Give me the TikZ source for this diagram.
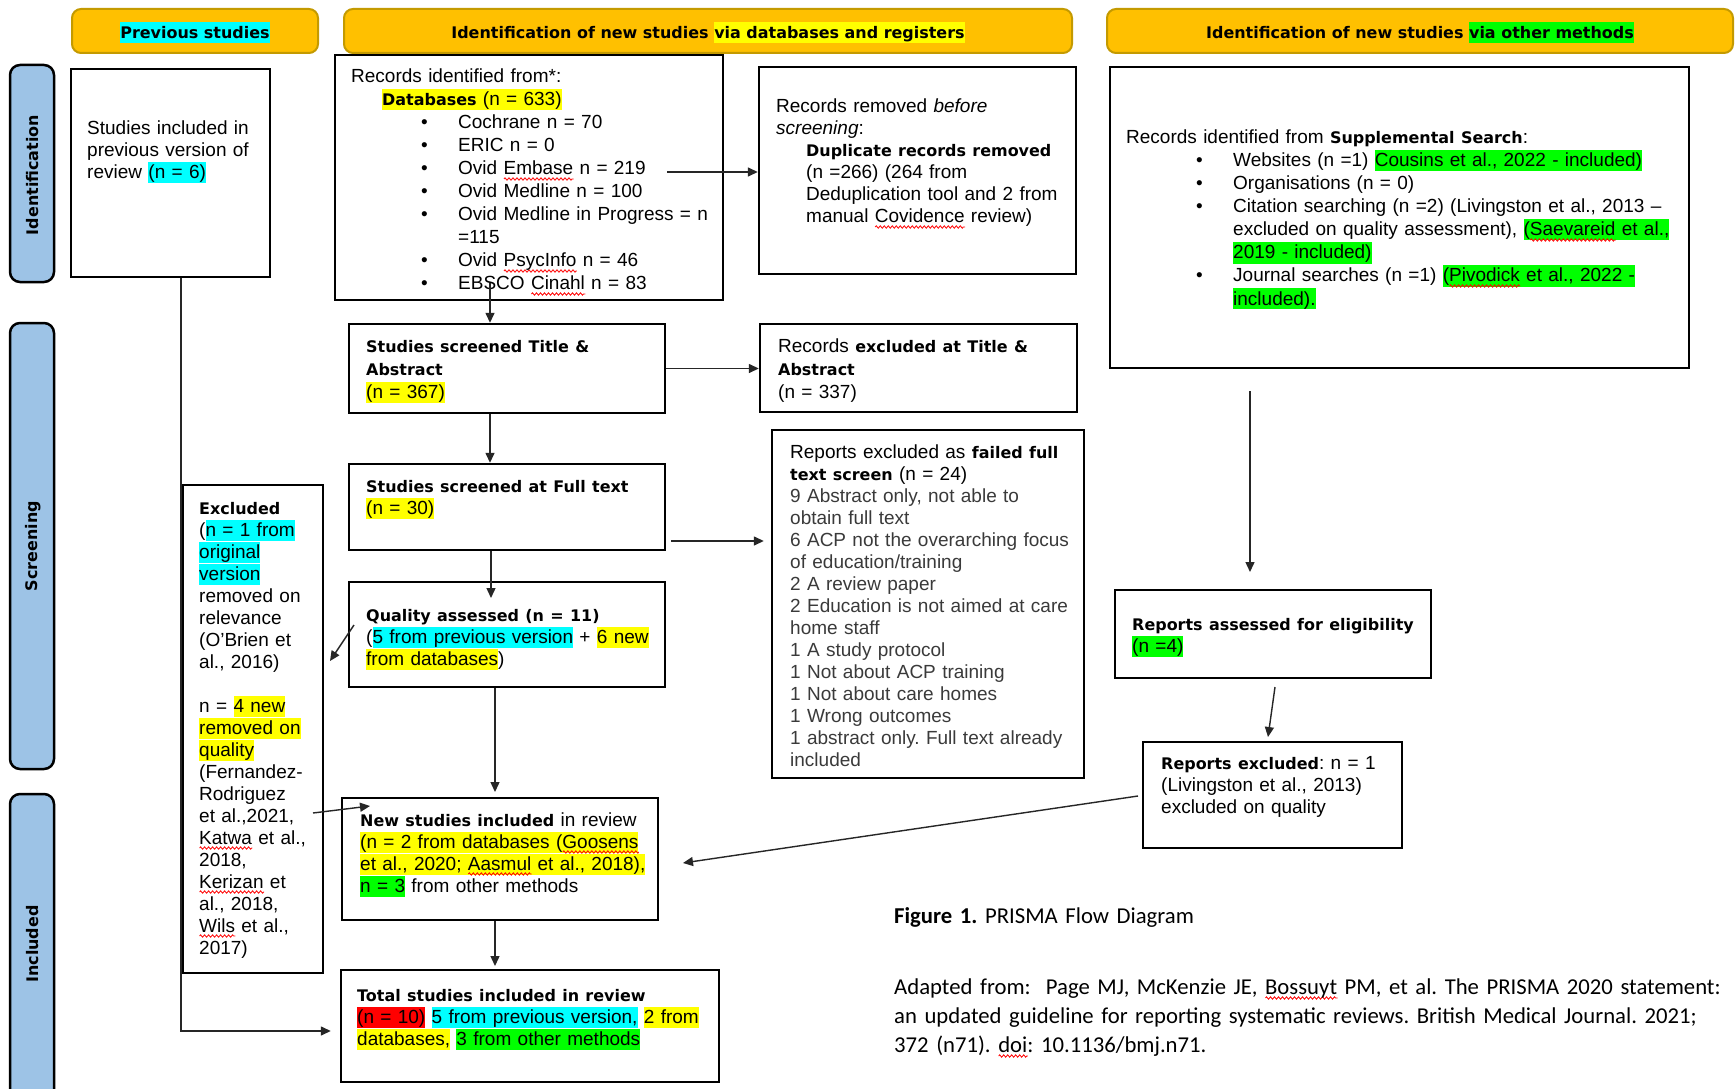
\documentclass[tikz,border=0pt]{standalone}
\usepackage{fontspec}
\usetikzlibrary{arrows.meta,decorations.pathmorphing}
\setmainfont{Liberation Sans}
\newfontfamily\vb{DejaVu Sans}[Scale=0.84]
\newfontfamily\calib{Carlito}
\frenchspacing
\newcommand\B[1]{{\vb\bfseries #1}}
\definecolor{hy}{HTML}{FFFF00}
\definecolor{hc}{HTML}{00FFFF}
\definecolor{hg}{HTML}{00FF00}
\definecolor{hr}{HTML}{FF0000}
\definecolor{hdrf}{HTML}{FFC000}
\definecolor{hdrb}{HTML}{C49A00}
\definecolor{sidef}{HTML}{9DC3E6}
\definecolor{txtg}{HTML}{3A3A3A}
\newcommand\hlst{\rule[-4.5pt]{0pt}{21pt}}
\newcommand\hl[2]{{\setlength{\fboxsep}{0pt}\colorbox{#1}{\hlst #2}}}
\newsavebox\spbox
\newcommand\spell[1]{\sbox\spbox{#1}\leavevmode\rlap{\raisebox{0pt}[0pt][0pt]{\tikz[x=1pt,y=1pt,baseline=0pt]\draw[red,line width=0.8pt,decorate,decoration={zigzag,amplitude=1.2pt,segment length=4pt}] (0,-4) -- (\the\wd\spbox,-4);}}#1}
\newcommand\bul{\hspace*{70pt}\makebox[37pt][l]{\textbullet}}
\newcommand\ind{\hspace*{107pt}}
\tikzset{
  box/.style={draw=black, line width=2.4pt, inner sep=0pt},
  hdr/.style={draw=hdrb, fill=hdrf, line width=2pt, rounded corners=9pt, inner sep=0pt, font=\fontsize{19}{22}\selectfont},
  hdrtxt/.style={inner sep=0pt, font=\fontsize{19}{22}\selectfont},
  side/.style={draw=black, fill=sidef, line width=2.5pt, rounded corners=10pt, inner sep=0pt},
  sidetxt/.style={rotate=90, inner sep=0pt, font=\fontsize{19}{22}\selectfont},
  txt/.style={anchor=base west, inner sep=0pt, align=left, text width=600pt, font=\fontsize{19}{22}\selectfont},
  txtw/.style={txt, font=\fontsize{19}{23}\selectfont},
  captxt/.style={anchor=base west, inner sep=0pt, align=left, text width=900pt, font=\calib\fontsize{22.7}{29}\selectfont},
  arr/.style={draw=black!85, line width=1.4pt, -{Triangle[length=10pt,width=9pt]}}
}
\begin{document}
\begin{tikzpicture}[x=1pt,y=-1pt]
\fill[white] (0,0) rectangle (1735,1089);
\useasboundingbox (0,0) rectangle (1735,1089);

% headers
\node[hdr, minimum width=246pt, minimum height=44pt] (h1) at (195,31) {};
\node[hdrtxt] (h1t) at (195,33) {\hl{hc}{\B{Previous studies}}};
\node[hdr, minimum width=728pt, minimum height=44pt] (h2) at (708,31) {};
\node[hdrtxt] (h2t) at (708,33) {\B{Identification of new studies \hl{hy}{via databases and registers}}};
\node[hdr, minimum width=626pt, minimum height=44pt] (h3) at (1420,31) {};
\node[hdrtxt] (h3t) at (1420,33) {\B{Identification of new studies \hl{hg}{via other methods}}};

% side bars
\node[side, minimum width=44pt, minimum height=217pt] (s1) at (32,173.5) {};
\node[sidetxt] (s1t) at (33,175) {\B{Identification}};
\node[side, minimum width=44pt, minimum height=446pt] (s2) at (32,546) {};
\node[sidetxt] (s2t) at (33,546) {\B{Screening}};
\node[side, minimum width=44pt, minimum height=340pt] (s3) at (32,964) {};
\node[sidetxt] (s3t) at (33,944) {\B{Included}};

% boxes
\node[box, minimum width=199pt, minimum height=208pt] (prev) at (170.5,173) {};
\node[box, minimum width=388pt, minimum height=245pt] (rid) at (529,177.5) {};
\node[box, minimum width=317pt, minimum height=207pt] (rrm) at (917.5,170.5) {};
\node[box, minimum width=579pt, minimum height=301pt] (oth) at (1399.5,217.5) {};
\node[box, minimum width=316pt, minimum height=89pt] (ta) at (507,368.5) {};
\node[box, minimum width=317pt, minimum height=88pt] (rxa) at (918.5,368) {};
\node[box, minimum width=316pt, minimum height=86pt] (ft) at (507,507) {};
\node[box, minimum width=312pt, minimum height=348pt] (rxf) at (928,604) {};
\node[box, minimum width=316pt, minimum height=105pt] (qa) at (507,634.5) {};
\node[box, minimum width=140pt, minimum height=488pt] (exc) at (253,729) {};
\node[box, minimum width=316pt, minimum height=122pt] (nsi) at (500,859) {};
\node[box, minimum width=378pt, minimum height=112pt] (tot) at (530,1026) {};
\node[box, minimum width=316pt, minimum height=88pt] (rae) at (1273,634) {};
\node[box, minimum width=259pt, minimum height=106pt] (rxr) at (1272.5,795) {};

% texts
\node[txt] (prevt) at (87,135) {Studies included in\\previous version of\\review \hl{hc}{(n = 6)}};

\node[txtw] (ridt) at (351,83) {Records identified from*:\\
\hspace*{31pt}\hl{hy}{\B{Databases} (n = 633)}\\
\bul Cochrane n = 70\\
\bul ERIC n = 0\\
\bul Ovid \spell{Embase} n = 219\\
\bul Ovid Medline n = 100\\
\bul Ovid Medline in Progress = n\\
\ind =115\\
\bul Ovid \spell{PsycInfo} n = 46\\
\bul EBSCO \spell{Cinahl} n = 83};

\node[txt] (rrmt) at (776,113) {Records removed \textit{before}\\
\textit{screening}:\\
\hspace*{30pt}\B{Duplicate records removed}\\
\hspace*{30pt}(n =266) (264 from\\
\hspace*{30pt}Deduplication tool and 2 from\\
\hspace*{30pt}manual \spell{Covidence} review)};

\node[txtw] (otht) at (1126,144) {Records identified from \B{Supplemental Search}:\\
\bul Websites (n =1) \hl{hg}{Cousins et al., 2022 - included)}\\
\bul Organisations (n = 0)\\
\bul Citation searching (n =2) (Livingston et al., 2013 –\\
\ind excluded on quality assessment), \hl{hg}{(\spell{Saevareid} et al.,}\\
\ind \hl{hg}{2019 - included)}\\
\bul Journal searches (n =1) \hl{hg}{(\spell{Pivodick} et al., 2022 -}\\
\ind \hl{hg}{included).}};

\node[txtw] (tat) at (366,352) {\B{Studies screened Title \&}\\\B{Abstract}\\\hl{hy}{(n = 367)}};
\node[txtw] (rxat) at (778,352) {Records \B{excluded at Title \&}\\\B{Abstract}\\(n = 337)};
\node[txt] (ftt) at (366,492) {\B{Studies screened at Full text}\\\hl{hy}{(n = 30)}};

\node[txt] (rxft) at (790,458) {Reports excluded as \B{failed full}\\
\B{text screen} (n = 24)\\
{\color{txtg}9 Abstract only, not able to\\
obtain full text\\
6 ACP not the overarching focus\\
of education/training\\
2 A review paper\\
2 Education is not aimed at care\\
home staff\\
1 A study protocol\\
1 Not about ACP training\\
1 Not about care homes\\
1 Wrong outcomes\\
1 abstract only. Full text already\\
included}};

\node[txt] (qat) at (366,621) {\B{Quality assessed (n = 11)}\\
(\hl{hc}{5 from previous version} + \hl{hy}{6 new}\\
\hl{hy}{from databases})};

\node[txt] (exct) at (199,514) {\B{Excluded}\\
(\hl{hc}{n = 1 from}\\
\hl{hc}{original}\\
\hl{hc}{version}\\
removed on\\
relevance\\
(O’Brien et\\
al., 2016)\\[22pt]
n = \hl{hy}{4 new}\\
\hl{hy}{removed on}\\
\hl{hy}{quality}\\
(Fernandez-\\
Rodriguez\\
et al.,2021,\\
\spell{Katwa} et al.,\\
2018,\\
\spell{Kerizan} et\\
al., 2018,\\
\spell{Wils} et al.,\\
2017)};

\node[txt] (nsit) at (360,826) {\B{New studies included} in review\\
\hl{hy}{(n = 2 from databases (\spell{Goosens}}\\
\hl{hy}{et al., 2020; \spell{Aasmul} et al., 2018),}\\
\hl{hg}{n = 3} from other methods};

\node[txt] (tott) at (357,1001) {\B{Total studies included in review}\\
\hl{hr}{(n = 10)} \hl{hc}{5 from previous version,} \hl{hy}{2 from}\\
\hl{hy}{databases,} \hl{hg}{3 from other methods}};

\node[txt] (raet) at (1132,630) {\B{Reports assessed for eligibility}\\\hl{hg}{(n =4)}};
\node[txt] (rxrt) at (1161,769) {\B{Reports excluded}: n = 1\\(Livingston et al., 2013)\\excluded on quality};

% caption
\node[captxt] (cap1) at (894,923) {\textbf{Figure 1.} PRISMA Flow Diagram};
\node[captxt] (cap2) at (894,994) {Adapted from:\ \ Page MJ, McKenzie JE, \spell{Bossuyt} PM, et al. The PRISMA 2020 statement:\\
an updated guideline for reporting systematic reviews. British Medical Journal. 2021;\\
372 (n71). \spell{doi}: 10.1136/bmj.n71.};

% connectors
\coordinate (c1) at (490,283);
\draw[arr] (c1) -- (c1 |- ta.north);
\coordinate (c2) at (667,172);
\draw[arr] (c2) -- (c2 -| rrm.west);
\draw[arr] (ta.east) -- (ta.east -| rxa.west);
\draw[arr] (c1 |- ta.south) -- (c1 |- ft.north);
\coordinate (c5) at (671,541);
\draw[arr] (c5) -- ([xshift=-7pt]c5 -| rxf.west);
\coordinate (c6) at (491,598);
\draw[arr] (c6 |- ft.south) -- (c6);
\coordinate (c7a) at (354,625);
\coordinate (c7b) at (330,661);
\draw[arr] (c7a) -- (c7b);
\coordinate (c8) at (495,792);
\draw[arr] (c8 |- qa.south) -- (c8);
\coordinate (c9a) at (313,813);
\coordinate (c9b) at (370,806);
\draw[arr] (c9a) -- (c9b);
\coordinate (c10) at (495,966);
\draw[arr] (c10 |- nsi.south) -- (c10);
\coordinate (c11) at (181,1031);
\draw[arr] (c11 |- prev.south) -- (c11) -- ([xshift=-9pt]c11 -| tot.west);
\coordinate (c12a) at (1250,391);
\coordinate (c12b) at (1250,572);
\draw[arr] (c12a) -- (c12b);
\coordinate (c13a) at (1275,687);
\coordinate (c13b) at (1268,737);
\draw[arr] (c13a) -- (c13b);
\coordinate (c14a) at (1138,796);
\coordinate (c14b) at (683,863);
\draw[arr] (c14a) -- (c14b);
\end{tikzpicture}
\end{document}
